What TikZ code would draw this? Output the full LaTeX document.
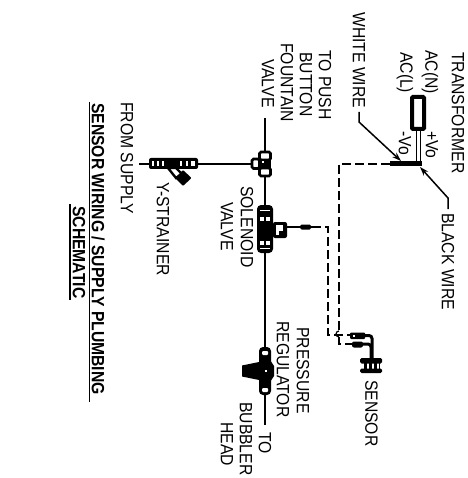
\documentclass[tikz,border=0pt]{standalone}
\usepackage{fontspec}
\setmainfont{Liberation Sans}
\usetikzlibrary{arrows.meta}
\tikzset{
  lbl/.style={rotate=-90,yscale=1.13,anchor=west,inner sep=0pt,font=\fontsize{15.7}{16}\selectfont},
  ttl/.style={lbl,font=\fontsize{15.7}{16}\selectfont\bfseries},
  wire/.style={line width=1.5pt},
  dash wire/.style={line width=1.4pt,dash pattern=on 9pt off 4pt},
  fit/.style={line width=2.6pt,rounded corners=1.5pt,draw=black,fill=white},
  solid part/.style={rounded corners=2pt,fill=black},
  tip/.style={-{Stealth[length=9pt,width=6pt]}}
}
\begin{document}
\begin{tikzpicture}[x=1pt,y=-1pt]
\useasboundingbox (0,0) rectangle (467,478);
% coordinates
\coordinate (sup) at (139,164);
\coordinate (tee) at (265,164);
\coordinate (valtop) at (265,118);
\coordinate (bub) at (265,425);
\coordinate (blk) at (390,164);
\coordinate (d1a) at (339,164);
\coordinate (d1b) at (339,331);
\coordinate (d1c) at (339,344);
\coordinate (d1d) at (352,344);
\coordinate (d2a) at (312,227);
\coordinate (d2b) at (328,227);
\coordinate (d2c) at (328,335);
\coordinate (d2d) at (350,335);
% plumbing
\draw[wire] (valtop) -- (bub);
\draw[wire] (sup) -- (tee);
% tee
\draw[fit] (259.5,152) rectangle (270.5,160);
\draw[fit] (259.5,168) rectangle (270.5,176);
\draw[fit] (252,159) rectangle (259.5,168.5);
\fill[black] (259,160) rectangle (271,168);
\fill[white] (262,161.5) rectangle (264,163.5);
% Y strainer
\fill[solid part] (149,158) rectangle (198,169);
\fill[white] (152,161) rectangle (154,166);
\fill[white] (157,161) rectangle (159,166);
\fill[white] (162,161) rectangle (164,166);
\fill[white] (180,161) rectangle (182,166);
\fill[white] (186,161) rectangle (188,166);
\fill[white] (191,161) rectangle (195,166);
\draw[line width=2.4pt,fill=white] (168,168) -- (176,168) -- (182,174) -- (176,178) -- cycle;
\fill[black,rounded corners=1pt] (183,170) -- (191.5,178) -- (183,186) -- (175,178) -- cycle;
% solenoid
\fill[solid part] (273,222) rectangle (287,238);
\fill[white] (276,225) rectangle (283,231);
\fill[white] (276,231) rectangle (279,235);
\fill[black,rounded corners=4pt] (257,205) rectangle (273,253);
\fill[white] (260,216.5) rectangle (264,220.5);
\fill[white] (266,216.5) rectangle (270,220.5);
\fill[white] (260,241) rectangle (264,245);
\fill[white] (266,241) rectangle (270,245);
\fill[white] (260,210) rectangle (270,211);
\fill[white] (260,248) rectangle (270,249);
\draw[wire] (287,227) -- (312,227);
\fill[black,rounded corners=1.5pt] (300,224.5) rectangle (311,229.5);
% regulator
\fill[black,rounded corners=4pt] (259,347) rectangle (271,395);
\fill[white,rounded corners=1pt] (262,351) rectangle (268,355);
\fill[white,rounded corners=1pt] (262,388) rectangle (268,392);
\fill[black] (242,365.5) -- (259,362) -- (270,360) -- (274,366) -- (274,376) -- (270,382) -- (259,380) -- (242,376.5) -- cycle;
\fill[white] (264.5,370) rectangle (266.5,372);
% dashed wires
\draw[dash wire] (blk) -- (d1a) -- (d1b);
\draw[line width=1.2pt] (d1b) arc[start angle=-90,end angle=-270,radius=3];
\draw[dash wire] (339,337) -- (d1c) -- (d1d);
\draw[dash wire] (d2a) -- (d2b) -- (d2c) -- (d2d);
% sensor
\fill[black,rounded corners=1pt] (350,332.5) rectangle (365,339);
\fill[white] (353,334.5) rectangle (355,337);
\draw[line width=3pt,rounded corners=3pt] (363,335.5) -- (372,335.5) -- (372,359);
\fill[black,rounded corners=2pt] (352,341.5) rectangle (363,347.5);
\draw[line width=3pt,rounded corners=3pt] (362,344) -- (371,344) -- (371,359);
\fill[black,rounded corners=1.5pt] (360,358) rectangle (382,363.5);
\fill[black,rounded corners=1.5pt] (360,368.5) rectangle (382,373);
\fill[black] (364,363) rectangle (366.5,369);
\fill[black] (369,363) rectangle (371.5,369);
\fill[black] (374,363) rectangle (376.5,369);
\fill[black] (378.5,363) rectangle (380,369);
% transformer
\draw[line width=4pt,rounded corners=1pt,fill=white] (412,97) rectangle (424,129);
\draw[line width=1.8pt] (416.5,131) -- (416.5,164);
\draw[line width=1.8pt] (420.5,131) -- (420.5,164);
\fill[black] (390,161.5) rectangle (421.5,166.5);
% leaders
\coordinate (wl1) at (359,112);
\coordinate (wl2) at (359,122);
\coordinate (wl3) at (401,161);
\draw[wire,tip] (wl1) -- (wl2) -- (wl3);
\coordinate (bl1) at (448,209);
\coordinate (bl2) at (448,198);
\coordinate (bl3) at (420,167);
\draw[wire,tip] (bl1) -- (bl2) -- (bl3);
% labels
\node[lbl] (t1) at (458,52) {TRANSFORMER};
\node[lbl] (t2) at (430,50) {AC(N)};
\node[lbl] (t3) at (405,52) {AC(L)};
\node[lbl] (t4) at (359,12) {WHITE WIRE};
\node[lbl] (t5) at (325,50) {TO PUSH};
\node[lbl] (t6) at (306,52) {BUTTON};
\node[lbl] (t7) at (287,43) {FOUNTAIN};
\node[lbl] (t8) at (268,59) {VALVE};
\node[lbl] (t9) at (432,131) {+Vo};
\node[lbl] (t10) at (405,131) {-Vo};
\node[lbl] (t11) at (448,213) {BLACK WIRE};
\node[lbl] (t12) at (247,186) {SOLENOID};
\node[lbl] (t13) at (227,202) {VALVE};
\node[lbl] (t14) at (371.5,380) {SENSOR};
\node[lbl] (t15) at (303,327) {PRESSURE};
\node[lbl] (t16) at (283,321) {REGULATOR};
\node[lbl] (t17) at (265,432) {TO};
\node[lbl] (t18) at (246,402) {BUBBLER};
\node[lbl] (t19) at (227,422) {HEAD};
\node[lbl] (t20) at (163,182) {Y-STRAINER};
\node[lbl] (t21) at (127,102) {FROM SUPPLY};
\node[ttl] (t22) at (98,103) {SENSOR WIRING / SUPPLY PLUMBING};
\node[ttl] (t23) at (79,206) {SCHEMATIC};
\draw[line width=1.3pt] (89.5,102) -- (89.5,402);
\draw[line width=1.3pt] (70,204) -- (70,300);
\end{tikzpicture}
\end{document}
